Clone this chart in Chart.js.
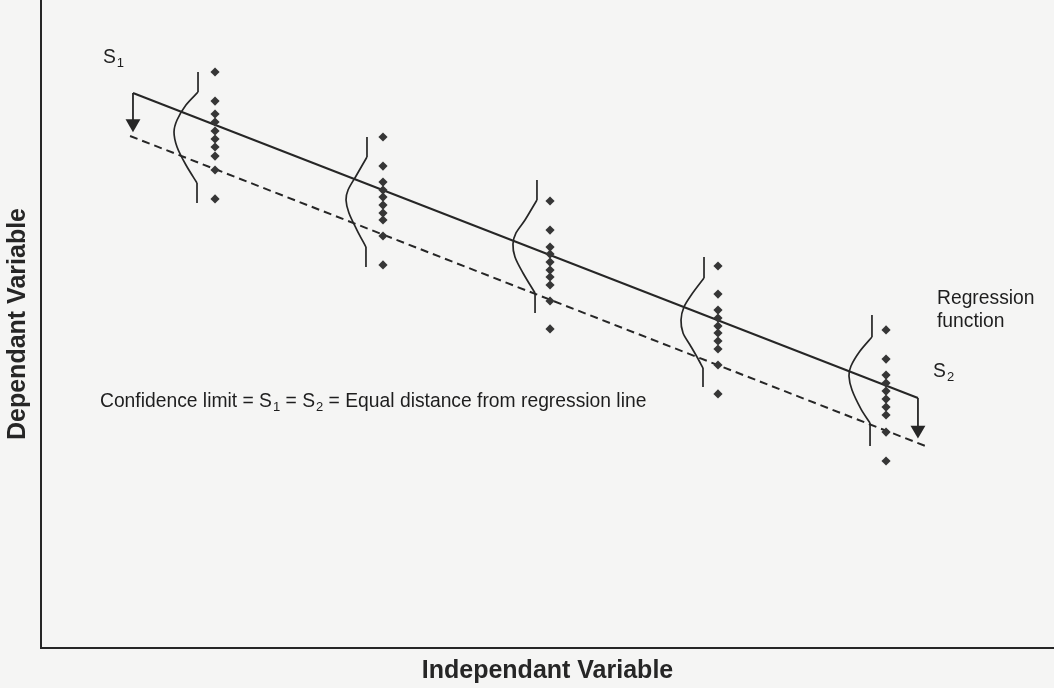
<!DOCTYPE html>
<html>
<head>
<meta charset="utf-8">
<title>Regression function and confidence limit</title>
<script src="https://cdn.jsdelivr.net/npm/chart.js@4.4.1/dist/chart.umd.min.js"></script>
<style>
  html, body { margin: 0; padding: 0; background: #f5f5f4; }
  #wrap { width: 1054px; height: 688px; position: relative; }
</style>
</head>
<body>
<div id="wrap"><canvas id="chart" width="1054" height="688"></canvas></div>
<script>
// Independent-variable positions of the five sampled groups
const groupX = [17.18, 33.76, 50.25, 66.83, 83.42];

// Observed dependent values in each group
const group1Y = [56.89, 54.02, 52.74, 51.95, 51.06, 50.27, 49.48, 48.59, 47.21, 44.35];
const group2Y = [50.47, 47.60, 46.02, 45.23, 44.54, 43.75, 42.96, 42.27, 40.69, 37.83];
const group3Y = [44.15, 41.28, 39.60, 38.91, 38.12, 37.33, 36.64, 35.85, 34.27, 31.51];
const group4Y = [37.73, 34.96, 33.38, 32.59, 31.80, 31.11, 30.32, 29.53, 27.95, 25.09];
const group5Y = [31.41, 28.54, 26.96, 26.17, 25.38, 24.59, 23.80, 23.01, 21.33, 18.47];

// Regression function and the lower confidence limit
const regressionX = [9.08, 86.57];
const regressionY = [54.81, 24.69];
const limitX = [8.79, 87.56];
const limitY = [50.57, 19.85];

// S1 / S2 offset arrows (from regression line down to the limit)
const arrowS1X = [9.08, 9.08];
const arrowS1Y = [54.81, 51.80];
const arrowS2X = [86.57, 86.57];
const arrowS2Y = [24.69, 21.53];

// Distribution curves beside each group
const bell1X = [15.50, 14.31, 13.43, 13.13, 13.43, 14.31, 15.40];
const bell1Y = [54.91, 53.63, 52.15, 50.96, 49.48, 47.70, 45.93];
const bell2X = [32.18, 31.10, 30.31, 30.11, 30.40, 31.19, 32.08];
const bell2Y = [48.49, 46.62, 45.23, 44.25, 42.96, 41.28, 39.60];
const bell3X = [48.96, 47.78, 46.89, 46.59, 46.79, 47.58, 48.77];
const bell3Y = [44.25, 42.27, 40.99, 39.90, 38.62, 37.04, 35.06];
const bell4X = [65.45, 64.26, 63.47, 63.18, 63.38, 64.07, 64.76, 65.35];
const bell4Y = [36.54, 34.96, 33.68, 32.40, 31.11, 29.93, 28.74, 27.65];
const bell5X = [82.03, 80.85, 79.96, 79.76, 80.06, 80.95, 81.84];
const bell5Y = [30.72, 29.33, 27.85, 26.86, 25.48, 23.60, 22.22];
// straight tails above and below each curve
const bellTop = [56.89, 50.47, 46.22, 38.62, 32.89];
const bellBottom = [43.95, 37.63, 33.09, 25.78, 19.95];

// Annotation texts and their anchor values
const labelText = ['S₁', 'Confidence limit = S₁ = S₂ = Equal distance from regression line', 'Regression', 'function', 'S₂'];
const labelX = [6.12, 5.82, 88.45, 88.45, 88.06];
const labelY = [57.73, 23.80, 33.98, 31.70, 26.77];

const axisTitleX = 'Independant Variable';
const axisTitleY = 'Dependant Variable';

const INK = '#262626';
const DOT = '#363636';
const FONT = '"Liberation Sans", Arial, Helvetica, sans-serif';

Chart.defaults.font.family = FONT;

const pts = (xs, ys) => xs.map((v, i) => ({ x: v, y: ys[i] }));

const groupY = [group1Y, group2Y, group3Y, group4Y, group5Y];
const dotData = [];
groupX.forEach((gx, i) => groupY[i].forEach(v => dotData.push({ x: gx, y: v })));

const lineBase = { pointRadius: 0, borderColor: INK, fill: false, showLine: true };

const datasets = [
  { data: dotData, showLine: false, pointStyle: 'rectRot', pointRadius: 4.6,
    pointBackgroundColor: DOT, pointBorderWidth: 0 },
  { ...lineBase, data: pts(regressionX, regressionY), borderWidth: 2 },
  { ...lineBase, data: pts(limitX, limitY), borderWidth: 2, borderDash: [8, 5] },
  { ...lineBase, data: pts(arrowS1X, arrowS1Y), borderWidth: 1.8,
    pointStyle: 'triangle', pointRotation: 180, pointRadius: [0, 8.6],
    pointBackgroundColor: INK, pointBorderWidth: 0 },
  { ...lineBase, data: pts(arrowS2X, arrowS2Y), borderWidth: 1.8,
    pointStyle: 'triangle', pointRotation: 180, pointRadius: [0, 8.6],
    pointBackgroundColor: INK, pointBorderWidth: 0 }
];

const bellsX = [bell1X, bell2X, bell3X, bell4X, bell5X];
const bellsY = [bell1Y, bell2Y, bell3Y, bell4Y, bell5Y];
bellsX.forEach((bx, i) => {
  const by = bellsY[i];
  const n = bx.length - 1;
  datasets.push({ ...lineBase, data: pts(bx, by), borderWidth: 1.7, tension: 0.3 });
  datasets.push({ ...lineBase, data: pts([bx[0], bx[0]], [bellTop[i], by[0]]), borderWidth: 1.7 });
  datasets.push({ ...lineBase, data: pts([bx[n], bx[n]], [by[n], bellBottom[i]]), borderWidth: 1.7 });
});

// Text notes with subscript digits drawn smaller and lowered
const SUBS = '₀₁₂₃₄₅₆₇₈₉';
const notesPlugin = {
  id: 'notes',
  afterDatasetsDraw(chart) {
    const { ctx } = chart;
    const xs = chart.scales.x, ys = chart.scales.y;
    const mainFont = '19.3px ' + FONT;
    const subFont = '13px ' + FONT;
    ctx.save();
    ctx.fillStyle = '#1e1e1e';
    ctx.textAlign = 'left';
    ctx.textBaseline = 'alphabetic';
    labelText.forEach((txt, i) => {
      let cx = xs.getPixelForValue(labelX[i]);
      const cy = ys.getPixelForValue(labelY[i]);
      let buf = '';
      const flush = () => {
        if (!buf) return;
        ctx.font = mainFont;
        ctx.fillText(buf, cx, cy);
        cx += ctx.measureText(buf).width;
        buf = '';
      };
      for (const ch of txt) {
        const d = SUBS.indexOf(ch);
        if (d >= 0) {
          flush();
          ctx.font = subFont;
          const s = String(d);
          ctx.fillText(s, cx + 1, cy + 4);
          cx += ctx.measureText(s).width + 1;
        } else {
          buf += ch;
        }
      }
      flush();
    });
    ctx.restore();
  }
};

new Chart(document.getElementById('chart'), {
  type: 'line',
  data: { datasets },
  options: {
    responsive: false,
    devicePixelRatio: 1,
    animation: false,
    events: [],
    layout: { padding: 0, autoPadding: false },
    plugins: { legend: { display: false }, tooltip: { enabled: false } },
    scales: {
      x: {
        type: 'linear', min: 0, max: 100,
        grid: { display: false },
        ticks: { display: false },
        border: { display: true, color: INK, width: 2 },
        title: { display: true, text: axisTitleX, color: '#262626',
                 font: { size: 25, weight: 'bold' }, padding: { top: 0, bottom: 2 } },
        afterFit(s) { s.height = 40; }
      },
      y: {
        type: 'linear', min: 0, max: 64,
        grid: { display: false },
        ticks: { display: false },
        border: { display: true, color: INK, width: 2 },
        title: { display: true, text: axisTitleY, color: '#262626',
                 font: { size: 25, weight: 'bold' }, padding: { top: 3, bottom: 0 } },
        afterFit(s) { s.width = 41; }
      }
    }
  },
  plugins: [notesPlugin]
});
</script>
</body>
</html>
